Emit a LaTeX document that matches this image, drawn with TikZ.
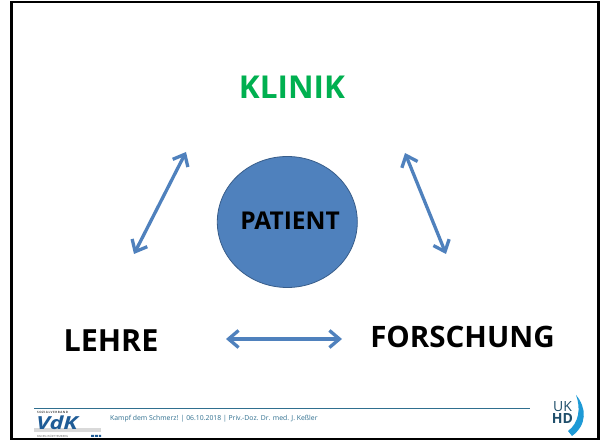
\documentclass[tikz,border=0pt]{standalone}
\usepackage{fontspec}
\setmainfont{Open Sans}
\usetikzlibrary{calc, arrows.meta, shapes.geometric}
\definecolor{arrowblue}{HTML}{4F81BD}
\definecolor{circleedge}{HTML}{385D8A}
\definecolor{klinikgreen}{HTML}{00B050}
\definecolor{footerblue}{HTML}{2F6F8F}
\definecolor{vdkblue}{HTML}{1F5C96}
\definecolor{ukdark}{HTML}{1F4E6B}
\definecolor{uklight}{HTML}{1E9AD6}
\tikzset{
    link/.style={draw=arrowblue,line width=3.3pt,{Straight Barb[length=10pt,width=17pt,line width=3.3pt]}-{Straight Barb[length=10pt,width=17pt,line width=3.3pt]}},
    title/.style={inner sep=0pt,font=\bfseries\fontsize{#1}{#1}\selectfont},
}
\begin{document}
\begin{tikzpicture}[x=1pt,y=-1pt]
            \useasboundingbox (0,0) rectangle (606,443);
            \fill[white] (0,0) rectangle (606,443);
            \draw[black,line width=2.6pt] (11.5,2) rectangle (598.5,439);
            \node[title=31.5,text=klinikgreen] (klinik) at (292,87){KLINIK};
            \node[title=30.5] (lehre) at (111,341){LEHRE};
            \node[title=29.5] (forschung) at (462.5,337){FORSCHUNG};
            \node[ellipse,draw=circleedge,fill=arrowblue,line width=0.8pt,minimum width=140pt,minimum height=131pt,inner sep=0pt] (patientcircle) at (287.3,222){};
            \node[title=24.5] (patient) at (290,221){PATIENT};
            \coordinate (kl) at (186,152);
            \coordinate (lk) at (134,254);
            \coordinate (kf) at (405,153);
            \coordinate (fk) at (446,254);
            \coordinate (lf) at (226,339);
            \coordinate (fl) at (342,339);
            \draw[link] (kl)--(lk);
            \draw[link] (kf)--(fk);
            \draw[link] (lf)--(fl);
            % footer
            \coordinate (rulestart) at (34,408);
            \coordinate (ruleend) at (530,408);
            \draw[footerblue,line width=0.8pt] (rulestart)--(ruleend);
            \node[anchor=west,inner sep=0pt,text=footerblue,font=\fontsize{6.85}{6.85}\selectfont] (footer) at (110,418.5){Kampf dem Schmerz! | 06.10.2018 | Priv.-Doz. Dr. med. J. Keßler};
            % VdK logo
            \fill[black!15] (34,428) rectangle (101,432);
            \node[anchor=west,inner sep=0pt,text=black!70,font=\bfseries\fontsize{3}{3}\selectfont] (verband) at (37,412.5){S\,O\,Z\,I\,A\,L\,V\,E\,R\,B\,A\,N\,D};
            \node[anchor=west,inner sep=0pt,xscale=1.3,text=vdkblue,font=\bfseries\itshape\fontsize{18}{18}\selectfont] (vdk) at (36,423){VdK};
            \node[anchor=west,inner sep=0pt,text=black!60,font=\fontsize{2.8}{3}\selectfont] (baden) at (37,436){BADEN-WÜRTTEMBERG};
            \fill[vdkblue] (91,435) rectangle (94,437) (95,435) rectangle (98,437) (99,435) rectangle (101,437);
            % UKHD logo
            \node[inner sep=0pt,align=center,text=ukdark,font=\fontsize{14}{11.5}\selectfont] (ukhd) at (562.5,412.5){UK\\\textbf{HD}};
            \fill[uklight] (576,395) .. controls (587,408) and (587,425) .. (572,436) -- (568,431) .. controls (579,423) and (581,408) .. (576,395) -- cycle;
        \end{tikzpicture}
\end{document}
